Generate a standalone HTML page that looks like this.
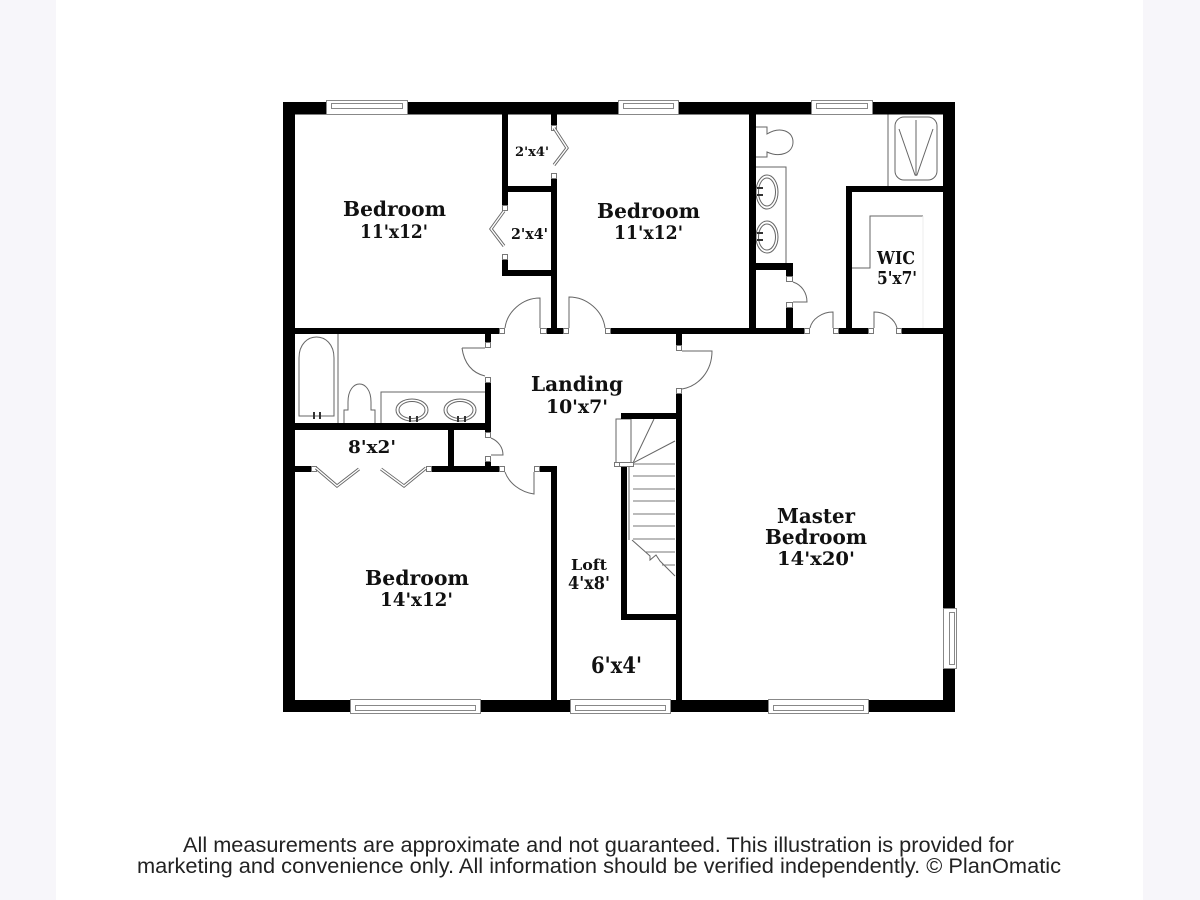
<!DOCTYPE html>
<html><head><meta charset="utf-8"><title>Floor plan</title>
<style>html,body{margin:0;padding:0;background:#f7f6fa}svg{display:block}
.l{font-family:"DejaVu Serif","Liberation Serif",serif;font-weight:bold;fill:#111}
.f{font-family:"Liberation Sans",sans-serif;font-size:21.5px;fill:#222}
.g{fill:none;stroke:#666;stroke-width:1}
.s{fill:#fff;stroke:#777;stroke-width:1}
</style></head><body>
<svg width="1200" height="900" viewBox="0 0 1200 900" xmlns="http://www.w3.org/2000/svg">
<rect x="0" y="0" width="1200" height="900" fill="#f7f6fa"/>
<rect x="56" y="0" width="1087" height="900" fill="#fff"/>

<!-- fixtures -->
<g class="g">
<!-- master bath -->
<path d="M756 127H767V134C780 126 793 131 793 142C793 153 780 158 767 152V157H756"/>
<path d="M756 167H786V263"/>
<ellipse cx="767" cy="192" rx="11" ry="17"/><ellipse cx="767" cy="192" rx="8.5" ry="14"/>
<ellipse cx="767" cy="237" rx="11" ry="16"/><ellipse cx="767" cy="237" rx="8.5" ry="13"/>
<path d="M888 114V186"/>
<rect x="895" y="117" width="42" height="63" rx="9"/>
<path d="M916 120V176M899 129L915 175H917L933 129"/>
<path d="M852 268H870V216H923"/>
<path d="M923 216V328" stroke="#eee"/>
<!-- hall bath -->
<path d="M338 334V423"/>
<path d="M299 416V358C299 330 334 330 334 358V416Z"/>
<path d="M344 423V410H348V402C348 378 371 378 371 402V410H375V423"/>
<path d="M381 423V392H485"/>
<ellipse cx="412" cy="410" rx="16" ry="11"/><ellipse cx="412" cy="410" rx="13" ry="8.5"/>
<ellipse cx="460" cy="410" rx="16" ry="11"/><ellipse cx="460" cy="410" rx="13" ry="8.5"/>
<!-- stairs -->
<path d="M616 419H631V463H616Z"/>
<path d="M633 463L654 419M633 463L675 441"/>
<path d="M629 466V540M632 540L650 556L650 560L656 555L660 561L675 576"/>
<path d="M633 464H675M633 476H675M633 489H675M633 501H675M633 514H675M633 526H675M633 539H675M645 552H675M662 565H675" stroke="#777"/>
</g>
<g fill="#333">
<rect x="757" y="187" width="6" height="2"/><rect x="757" y="194" width="6" height="2"/>
<rect x="757" y="232" width="6" height="2"/><rect x="757" y="239" width="6" height="2"/>
<rect x="409" y="416" width="2" height="6"/><rect x="416" y="416" width="2" height="6"/>
<rect x="457" y="416" width="2" height="6"/><rect x="464" y="416" width="2" height="6"/>
<rect x="313" y="412" width="2" height="7"/><rect x="319" y="412" width="2" height="7"/>
</g>

<!-- walls -->
<g fill="#000">
<rect x="283" y="102" width="672" height="12.5"/>
<rect x="283" y="102" width="12" height="610"/>
<rect x="943" y="102" width="12" height="610"/>
<rect x="283" y="700" width="672" height="12"/>
<!-- closets -->
<rect x="502" y="114" width="6" height="91"/>
<rect x="502" y="186" width="55" height="6"/>
<rect x="551" y="114" width="6" height="11"/>
<rect x="551" y="178" width="6" height="150"/>
<rect x="502" y="260" width="6" height="16"/>
<rect x="502" y="270" width="55" height="6"/>
<!-- mid wall -->
<rect x="295" y="328" width="204" height="6"/>
<rect x="547" y="328" width="16" height="6"/>
<rect x="611" y="328" width="193" height="6"/>
<rect x="838" y="328" width="30" height="6"/>
<rect x="902" y="328" width="41" height="6"/>
<!-- master bath -->
<rect x="749" y="114" width="7" height="214"/>
<rect x="749" y="263" width="44" height="7"/>
<rect x="786" y="263" width="7" height="13"/>
<rect x="786" y="308" width="7" height="20"/>
<rect x="846" y="186" width="6" height="142"/>
<rect x="846" y="186" width="97" height="6"/>
<!-- hall bath -->
<rect x="485" y="328" width="6" height="14"/>
<rect x="485" y="383" width="6" height="49"/>
<rect x="295" y="423" width="196" height="7"/>
<rect x="448" y="430" width="6" height="36"/>
<rect x="485" y="462" width="6" height="6"/>
<rect x="295" y="466" width="16" height="6"/>
<rect x="431" y="466" width="68" height="6"/>
<rect x="540" y="466" width="17" height="6"/>
<rect x="551" y="466" width="6" height="240"/>
<!-- master -->
<rect x="676" y="334" width="6" height="11"/>
<rect x="676" y="394" width="6" height="310"/>
<rect x="621" y="413" width="56" height="6"/>
<rect x="621" y="465" width="6" height="155"/>
<rect x="621" y="614" width="56" height="6"/>
</g>

<!-- jamb squares -->
<g class="s">
<rect x="551.5" y="125.5" width="5" height="5"/><rect x="551.5" y="173.5" width="5" height="5"/>
<rect x="502.5" y="205.5" width="5" height="5"/><rect x="502.5" y="254.5" width="5" height="5"/>
<rect x="499.5" y="328.5" width="5" height="5"/><rect x="540.5" y="328.5" width="6" height="5"/>
<rect x="563.5" y="328.5" width="5" height="5"/><rect x="605.5" y="328.5" width="5" height="5"/>
<rect x="804.5" y="328.5" width="5" height="5"/><rect x="833.5" y="328.5" width="5" height="5"/>
<rect x="868.5" y="328.5" width="5" height="5"/><rect x="896.5" y="328.5" width="5" height="5"/>
<rect x="786.5" y="276.5" width="6" height="5"/><rect x="786.5" y="302.5" width="6" height="5"/>
<rect x="485.5" y="342.5" width="5" height="5"/><rect x="485.5" y="377.5" width="5" height="5"/>
<rect x="485.5" y="432.5" width="5" height="5"/><rect x="485.5" y="456.5" width="5" height="5"/>
<rect x="311.5" y="466.5" width="5" height="5"/><rect x="426.5" y="466.5" width="5" height="5"/>
<rect x="499.5" y="466.5" width="5" height="5"/><rect x="534.5" y="466.5" width="5" height="5"/>
<rect x="676.5" y="345.5" width="5" height="5"/><rect x="676.5" y="388.5" width="5" height="5"/>
<rect x="614.5" y="462.5" width="5" height="4"/><rect x="619.5" y="462.5" width="14" height="4"/>
</g>

<!-- door swings -->
<g class="g">
<path d="M505 328C507 312 522 298 540 298V328"/>
<path d="M569 328V297C587 297 603 311 605 328"/>
<path d="M810 328C812 319 822 312 833 312V328"/>
<path d="M874 328V312C885 312 895 319 897 328"/>
<path d="M793 282C802 285 807 293 807 302H793"/>
<path d="M462 348H485M462 348C464 363 472 373 485 376"/>
<path d="M491 438C498 441 503 447 503 455H491"/>
<path d="M505 472C509 483 520 492 534 494V472"/>
<path d="M682 351H712C712 371 699 386 682 389"/>
</g>

<!-- bifold doors -->
<g fill="none" stroke="#666" stroke-width="3.2" stroke-linejoin="miter">
<path d="M554 128L567 148L554 165"/>
<path d="M504 211L491 229L504 246"/>
<path d="M316 468L337 486L359 469"/>
<path d="M381 469L404 486L426 468"/>
</g>
<g fill="none" stroke="#fff" stroke-width="1.4">
<path d="M554 128L567 148L554 165"/>
<path d="M504 211L491 229L504 246"/>
<path d="M316 468L337 486L359 469"/>
<path d="M381 469L404 486L426 468"/>
</g>

<!-- windows -->
<g fill="#fff" stroke="#888" stroke-width="1">
<rect x="326.5" y="100.5" width="81" height="14"/><rect x="331.5" y="103.5" width="71" height="5"/>
<rect x="618.5" y="100.5" width="60" height="14"/><rect x="623.5" y="103.5" width="50" height="5"/>
<rect x="811.5" y="100.5" width="61" height="14"/><rect x="816.5" y="103.5" width="51" height="5"/>
<rect x="350.5" y="699.5" width="130" height="14"/><rect x="355.5" y="705.5" width="120" height="5"/>
<rect x="570.5" y="699.5" width="100" height="14"/><rect x="575.5" y="705.5" width="90" height="5"/>
<rect x="768.5" y="699.5" width="100" height="14"/><rect x="773.5" y="705.5" width="90" height="5"/>
<rect x="943.5" y="608.5" width="13" height="60"/><rect x="949.5" y="612.5" width="5" height="52"/>
</g>

<!-- labels -->
<g class="l">
<text x="343" y="216" font-size="20.5" textLength="103" lengthAdjust="spacingAndGlyphs">Bedroom</text>
<text x="360" y="238" font-size="19" textLength="68" lengthAdjust="spacingAndGlyphs">11'x12'</text>
<text x="597" y="218" font-size="20.5" textLength="103" lengthAdjust="spacingAndGlyphs">Bedroom</text>
<text x="614" y="239" font-size="19" textLength="69" lengthAdjust="spacingAndGlyphs">11'x12'</text>
<text x="515" y="156" font-size="13" textLength="34" lengthAdjust="spacingAndGlyphs">2'x4'</text>
<text x="511" y="239" font-size="14.5" textLength="37" lengthAdjust="spacingAndGlyphs">2'x4'</text>
<text x="877" y="264" font-size="18" textLength="38" lengthAdjust="spacingAndGlyphs">WIC</text>
<text x="877" y="284" font-size="18" textLength="40" lengthAdjust="spacingAndGlyphs">5'x7'</text>
<text x="531" y="391" font-size="20.5" textLength="92" lengthAdjust="spacingAndGlyphs">Landing</text>
<text x="546" y="413" font-size="19" textLength="62" lengthAdjust="spacingAndGlyphs">10'x7'</text>
<text x="348" y="453" font-size="18" textLength="48" lengthAdjust="spacingAndGlyphs">8'x2'</text>
<text x="365" y="585" font-size="20.5" textLength="104" lengthAdjust="spacingAndGlyphs">Bedroom</text>
<text x="380" y="606" font-size="19" textLength="73" lengthAdjust="spacingAndGlyphs">14'x12'</text>
<text x="777" y="523" font-size="20.5" textLength="78" lengthAdjust="spacingAndGlyphs">Master</text>
<text x="765" y="544" font-size="20.5" textLength="102" lengthAdjust="spacingAndGlyphs">Bedroom</text>
<text x="777" y="565" font-size="19" textLength="78" lengthAdjust="spacingAndGlyphs">14'x20'</text>
<text x="571" y="570" font-size="15" textLength="36" lengthAdjust="spacingAndGlyphs">Loft</text>
<text x="568" y="589" font-size="17.5" textLength="42" lengthAdjust="spacingAndGlyphs">4'x8'</text>
<text x="591" y="673" font-size="22" textLength="51" lengthAdjust="spacingAndGlyphs">6'x4'</text>
</g>

<text class="f" x="183" y="852" textLength="831" lengthAdjust="spacingAndGlyphs">All measurements are approximate and not guaranteed. This illustration is provided for</text>
<text class="f" x="137" y="873" textLength="924" lengthAdjust="spacingAndGlyphs">marketing and convenience only. All information should be verified independently. © PlanOmatic</text>
</svg>
</body></html>
